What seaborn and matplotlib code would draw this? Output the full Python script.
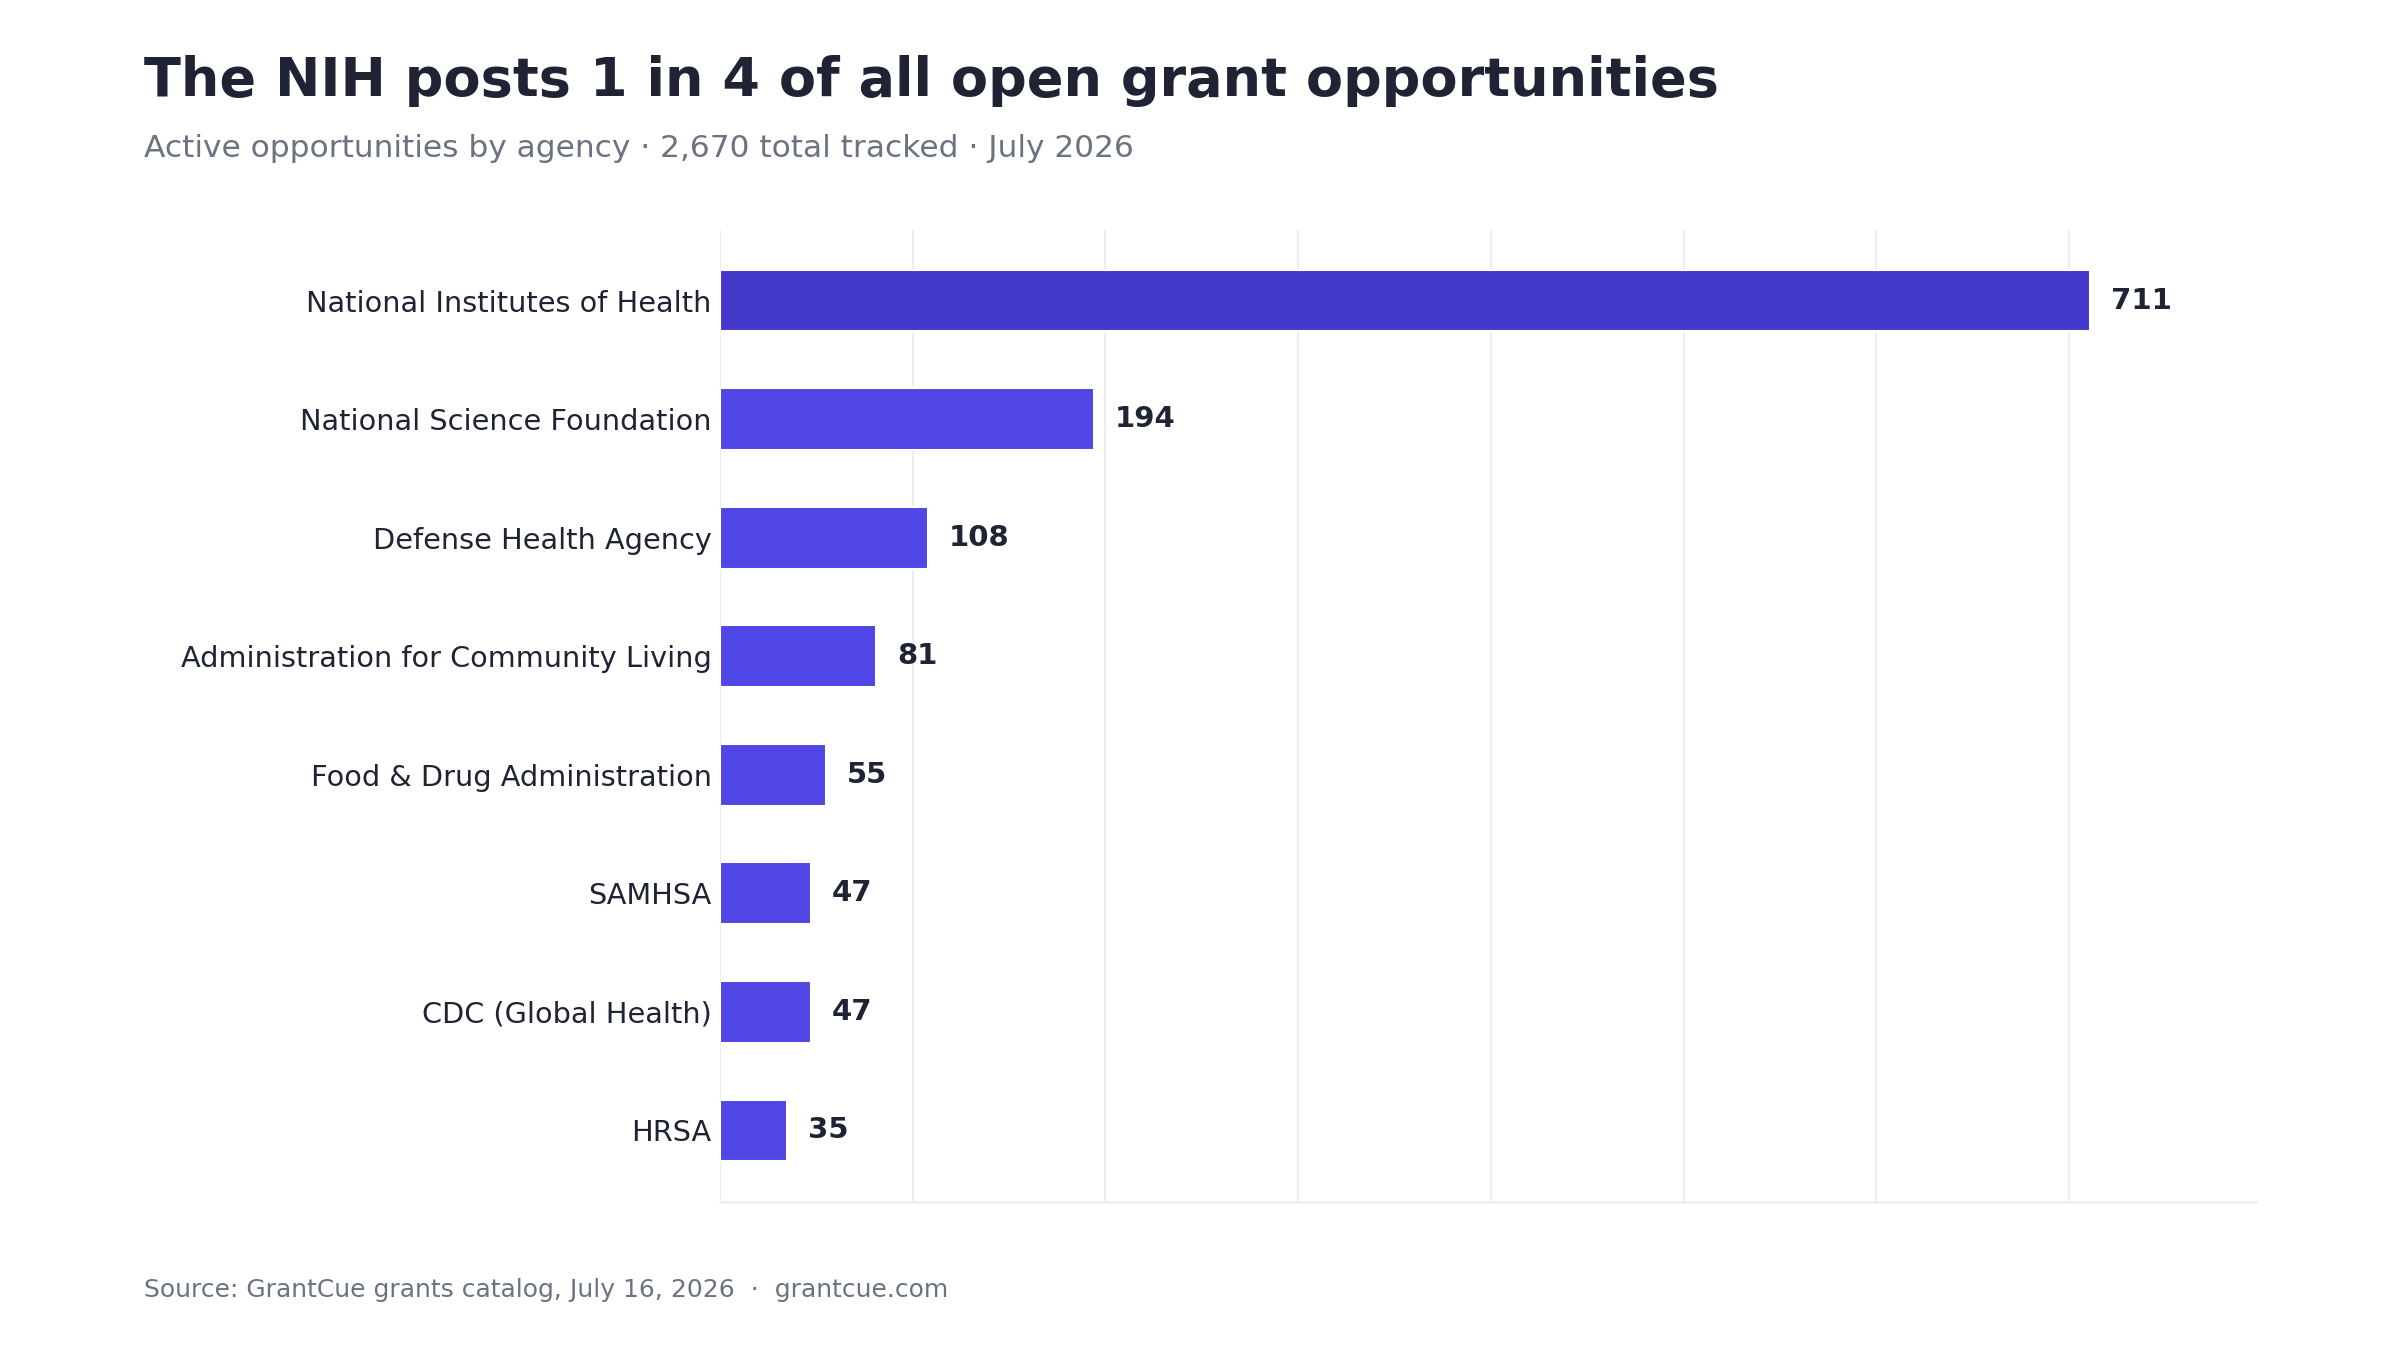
import pandas as pd
import matplotlib.pyplot as plt
import seaborn as sns

# Data
agencies = [
    'National Institutes of Health',
    'National Science Foundation',
    'Defense Health Agency',
    'Administration for Community Living',
    'Food & Drug Administration',
    'SAMHSA',
    'CDC (Global Health)',
    'HRSA',
]
counts = [711, 194, 108, 81, 55, 47, 47, 35]

df = pd.DataFrame({'agency': agencies, 'count': counts})

TEXT = '#1f2333'
MUTED = '#6b7280'
GRID = '#ededf0'
palette = {a: ('#4338ca' if i == 0 else '#4f46e5') for i, a in enumerate(agencies)}

sns.set_style('white')
plt.rcParams['font.family'] = ['DejaVu Sans']

fig = plt.figure(figsize=(16, 9), dpi=150)
ax = fig.add_axes([0.3, 0.11, 0.64, 0.72])

sns.barplot(data=df, y='agency', x='count', hue='agency', palette=palette,
            orient='h', width=0.52, legend=False, ax=ax, saturation=1)

ax.set_xlim(0, 797)
ax.set_ylim(len(agencies) - 0.4, -0.6)
ax.set_xticks(range(0, 800, 100))
ax.set_xticklabels([])
ax.tick_params(axis='x', length=0)
ax.tick_params(axis='y', length=0, pad=4, labelsize=13.8, labelcolor=TEXT)
ax.grid(axis='x', color=GRID, linewidth=1)
ax.set_axisbelow(True)
ax.set_xlabel('')
ax.set_ylabel('')
for s in ['top', 'right', 'left']:
    ax.spines[s].set_visible(False)
ax.spines['bottom'].set_color(GRID)
ax.spines['bottom'].set_linewidth(1.2)

# value labels
for i, v in enumerate(counts):
    ax.annotate(f'{v}', xy=(v, i), xytext=(10, 0), textcoords='offset points',
                va='center', ha='left', fontsize=14, fontweight='bold', color=TEXT)

fig.text(0.06, 0.929, 'The NIH posts 1 in 4 of all open grant opportunities',
         fontsize=26, fontweight='bold', color=TEXT, va='baseline')
fig.text(0.06, 0.884, 'Active opportunities by agency · 2,670 total tracked · July 2026',
         fontsize=15, color=MUTED, va='baseline')
fig.text(0.06, 0.039, 'Source: GrantCue grants catalog, July 16, 2026  ·  grantcue.com',
         fontsize=12, color=MUTED, va='baseline')

fig.savefig('out.png', dpi=150, facecolor='white')
